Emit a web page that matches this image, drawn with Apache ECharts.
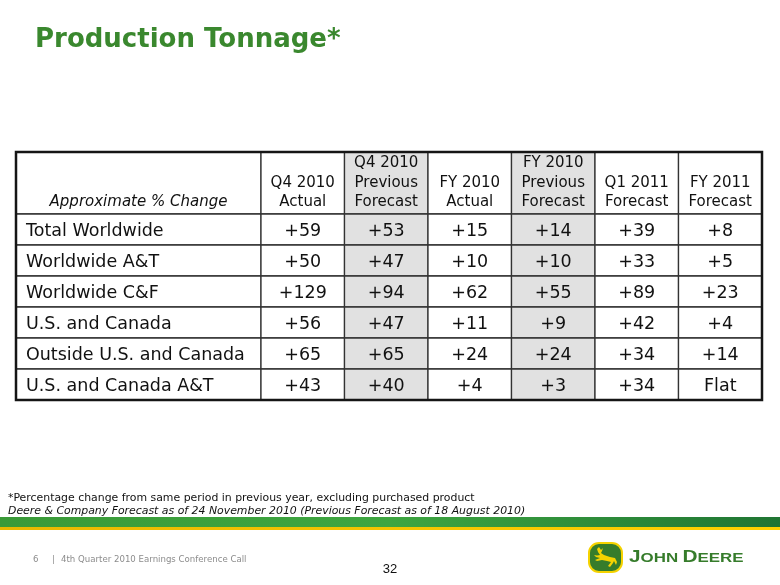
<!DOCTYPE html>
<html>
<head>
<meta charset="utf-8">
<script src="https://cdn.jsdelivr.net/npm/echarts@6/dist/echarts.min.js"></script>
<style>
html,body{margin:0;padding:0;background:#ffffff;}
#chart{width:780px;height:585px;}
</style>
</head>
<body>
<div id="chart"></div>
<script>
// ---------------- data ----------------
const titleText = 'Production Tonnage*';
const cornerLabel = 'Approximate % Change';
const columnHeaders = [
  'Q4 2010\nActual',
  'Q4 2010\nPrevious\nForecast',
  'FY 2010\nActual',
  'FY 2010\nPrevious\nForecast',
  'Q1 2011\nForecast',
  'FY 2011\nForecast'
];
const rowLabels = [
  'Total Worldwide',
  'Worldwide A&T',
  'Worldwide C&F',
  'U.S. and Canada',
  'Outside U.S. and Canada',
  'U.S. and Canada A&T'
];
const q4Actual     = [59, 50, 129, 56, 65, 43];
const q4Previous   = [53, 47, 94, 47, 65, 40];
const fy10Actual   = [15, 10, 62, 11, 24, 4];
const fy10Previous = [14, 10, 55, 9, 24, 3];
const q1Forecast   = [39, 33, 89, 42, 34, 34];
const fy11Forecast = [8, 5, 23, 4, 14, 'Flat'];
const footnoteLine1 = '*Percentage change from same period in previous year, excluding purchased product';
const footnoteLine2 = 'Deere & Company Forecast as of 24 November 2010 (Previous Forecast as of 18 August 2010)';
const footerPage = '6';
const footerText = '4th Quarter 2010 Earnings Conference Call';
const slideNumber = '32';

// ---------------- build ----------------
const valueColumns = [q4Actual, q4Previous, fy10Actual, fy10Previous, q1Forecast, fy11Forecast];
const shadedColumns = [1, 3];
const yCats = ['hdr-a', 'hdr-b'].concat(rowLabels);
const FONT = 'DejaVu Sans';

function fmt(v) { return typeof v === 'number' ? '+' + v : v; }

const leftCells = [{ x: 0, y: 0, span: 2, text: cornerLabel, header: true, italic: true, align: 'center', fill: '#ffffff' }];
rowLabels.forEach((r, i) => leftCells.push({ x: 0, y: i + 2, span: 1, text: r, header: false, align: 'left', fill: '#ffffff' }));

const rightCells = [];
columnHeaders.forEach((h, c) => {
  const fill = shadedColumns.indexOf(c) >= 0 ? '#e1e1e1' : '#ffffff';
  rightCells.push({ x: c, y: 0, span: 2, text: h, header: true, align: 'center', fill: fill });
  valueColumns[c].forEach((v, r) => rightCells.push({ x: c, y: r + 2, span: 1, text: fmt(v), header: false, align: 'center', fill: fill }));
});

function makeRenderer(cells) {
  return function (params, api) {
    const cell = cells[params.dataIndex];
    const c = api.coord([api.value(0), api.value(1)]);
    const s = api.size([1, 1]);
    const w = s[0], h = s[1];
    const x0 = c[0] - w / 2, y0 = c[1] - h / 2;
    const hh = h * cell.span;
    return {
      type: 'group',
      children: [
        { type: 'rect', shape: { x: x0, y: y0, width: w, height: hh },
          style: { fill: cell.fill, stroke: '#333333', lineWidth: 1.3 } },
        { type: 'text',
          style: {
            text: cell.text,
            x: cell.align === 'left' ? x0 + 10 : x0 + w / 2,
            y: cell.header ? y0 + hh - 2 : y0 + hh / 2 + 2,
            align: cell.align,
            verticalAlign: cell.header ? 'bottom' : 'middle',
            fontFamily: FONT,
            fontSize: cell.header ? 15 : 17.5,
            fontStyle: cell.italic ? 'italic' : 'normal',
            lineHeight: cell.header ? 19.5 : 20,
            fill: '#111111'
          } }
      ]
    };
  };
}

const option = {
  backgroundColor: '#ffffff',
  animation: false,
  title: [{
    text: titleText, left: 35, top: 27, padding: 0,
    textStyle: { fontFamily: FONT, fontWeight: 'bold', fontSize: 26, color: '#3a882e' }
  }],
  grid: [
    { left: 16, top: 152, width: 245, height: 248 },
    { left: 261, top: 152, width: 501, height: 248 },
    { left: 16, top: 152, width: 746, height: 248, show: true, z: 10,
      borderColor: '#151515', borderWidth: 2.5, backgroundColor: 'transparent' }
  ],
  xAxis: [
    { type: 'category', gridIndex: 0, data: ['label'], show: false },
    { type: 'category', gridIndex: 1, data: columnHeaders, show: false },
    { type: 'category', gridIndex: 2, data: ['all'], show: false }
  ],
  yAxis: [
    { type: 'category', gridIndex: 0, data: yCats, inverse: true, show: false },
    { type: 'category', gridIndex: 1, data: yCats, inverse: true, show: false },
    { type: 'category', gridIndex: 2, data: ['all'], show: false }
  ],
  series: [
    { type: 'custom', xAxisIndex: 0, yAxisIndex: 0, renderItem: makeRenderer(leftCells),
      data: leftCells.map(c => [c.x, c.y]), silent: true },
    { type: 'custom', xAxisIndex: 1, yAxisIndex: 1, renderItem: makeRenderer(rightCells),
      data: rightCells.map(c => [c.x, c.y]), silent: true }
  ],
  graphic: [
    { type: 'text', x: 8, y: 498, style: { text: footnoteLine1, fontFamily: FONT, fontSize: 10.9, fill: '#111', verticalAlign: 'middle' } },
    { type: 'text', x: 8, y: 511, style: { text: footnoteLine2, fontFamily: FONT, fontSize: 10.9, fontStyle: 'italic', fill: '#111', verticalAlign: 'middle' } },
    { type: 'rect', shape: { x: 0, y: 517, width: 780, height: 10 },
      style: { fill: new echarts.graphic.LinearGradient(0, 0, 1, 0, [
        { offset: 0, color: '#3a9a38' }, { offset: 0.5, color: '#3ea641' }, { offset: 1, color: '#1f7533' }]) } },
    { type: 'rect', shape: { x: 0, y: 527, width: 780, height: 3 },
      style: { fill: new echarts.graphic.LinearGradient(0, 0, 1, 0, [
        { offset: 0, color: '#e9b800' }, { offset: 1, color: '#ffd200' }]) } },
    { type: 'text', x: 33, y: 560, style: { text: footerPage, fontFamily: FONT, fontSize: 8.6, fill: '#8c8c8c', verticalAlign: 'middle' } },
    { type: 'text', x: 52, y: 560, style: { text: '|', fontFamily: FONT, fontSize: 8.6, fill: '#8c8c8c', verticalAlign: 'middle' } },
    { type: 'text', x: 61, y: 560, style: { text: footerText, fontFamily: FONT, fontSize: 8.6, fill: '#8c8c8c', verticalAlign: 'middle' } },
    { type: 'text', x: 390, y: 569, style: { text: slideNumber, fontFamily: 'Liberation Sans', fontSize: 13, fill: '#111', align: 'center', verticalAlign: 'middle' } },
    { type: 'rect', shape: { x: 589, y: 543, width: 33, height: 29, r: 10 },
      style: { fill: '#367c2b', stroke: '#f5d300', lineWidth: 2 } },
    { type: 'polygon', shape: { points: [[599,547],[601,550],[603,548],[602,551],[601,553],[604,555],[610,557],[615,558],[617,562],[616,565],[614,561],[613,563],[610,567],[608,566],[611,562],[607,561],[602,560],[597,561],[595,560],[600,558],[596,557],[594,555],[597,555.5],[600,555],[598,552],[597,549]] },
      style: { fill: '#f5d300' } },
    { type: 'text', x: 629, y: 558, scaleX: 1.3, style: {
      text: '{b|J}{s|OHN} {b|D}{s|EERE}', verticalAlign: 'middle',
      rich: {
        b: { fontFamily: 'Liberation Sans', fontWeight: 'bold', fontSize: 16, fill: '#367c2b' },
        s: { fontFamily: 'Liberation Sans', fontWeight: 'bold', fontSize: 13, fill: '#367c2b' }
      } } }
  ]
};

const chart = echarts.init(document.getElementById('chart'), null, { renderer: 'canvas' });
chart.setOption(option);
</script>
</body>
</html>
